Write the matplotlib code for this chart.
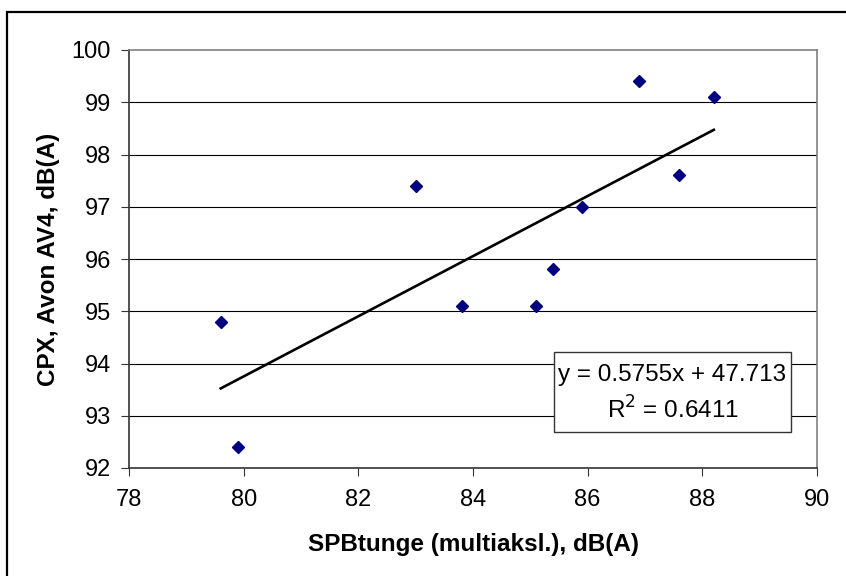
import numpy as np
import matplotlib
matplotlib.use('Agg')
import matplotlib.pyplot as plt
from matplotlib.patches import Rectangle

plt.rcParams['font.family'] = ['Liberation Sans', 'DejaVu Sans']

# measured points
spb = [79.6, 79.9, 83.0, 83.8, 85.1, 85.4, 85.9, 86.9, 87.6, 88.2]
cpx = [94.8, 92.4, 97.4, 95.1, 95.1, 95.8, 97.0, 99.4, 97.6, 99.1]

# linear trend shown in chart
slope = 0.5755
intercept = 47.713
r2 = 0.6411

xticks = [78, 80, 82, 84, 86, 88, 90]
yticks = [92, 93, 94, 95, 96, 97, 98, 99, 100]

fig = plt.figure(figsize=(8.46, 5.76), dpi=100)
ax = fig.add_axes([129/846, 1 - 468/576, 688/846, 418/576])

# outer chart border (right/bottom edges fall outside the picture)
top = 1 - 12/576
fig.add_artist(Rectangle((7/846, -0.2), 1.5, top + 0.2, transform=fig.transFigure,
                         fill=False, ec='black', lw=1.6))

for yv in yticks[1:-1]:
    ax.axhline(yv, color='black', lw=0.8, zorder=1)

xs = np.array([min(spb), max(spb)])
ax.plot(xs, slope * xs + intercept, color='black', lw=1.9, zorder=3)
ax.plot(spb, cpx, linestyle='none', marker='D', ms=6, color='#000080', zorder=4)

ax.set_xlim(xticks[0], xticks[-1])
ax.set_ylim(yticks[0], yticks[-1])
ax.set_xticks(xticks)
ax.set_yticks(yticks)
ax.tick_params(direction='out', length=6, width=0.8, color='#333333', labelsize=17)
ax.tick_params(axis='y', pad=7)
ax.tick_params(axis='x', pad=9)

for s in ['left', 'bottom']:
    ax.spines[s].set_color('#333333')
    ax.spines[s].set_linewidth(1.2)
for s in ['top', 'right']:
    ax.spines[s].set_color('#808080')
    ax.spines[s].set_linewidth(1.2)

ax.set_xlabel('SPBtunge (multiaksl.), dB(A)', fontsize=17.5, fontweight='bold')
ax.set_ylabel('CPX, Avon AV4, dB(A)', fontsize=17.5, fontweight='bold')
ax.xaxis.set_label_coords(0.5, (468 - 545) / 418)
ax.xaxis.label.set_va('center')
ax.yaxis.set_label_coords((48 - 129) / 688, 0.5)
ax.yaxis.label.set_va('center')

# equation box
bx0, bx1 = (554 - 129) / 688, (791 - 129) / 688
by0, by1 = (468 - 432) / 418, (468 - 352) / 418
ax.add_patch(Rectangle((bx0, by0), bx1 - bx0, by1 - by0, transform=ax.transAxes,
                       facecolor='white', edgecolor='#333333', lw=1.0, zorder=5))
ax.text((bx0 + bx1) / 2, (468 - 375) / 418, 'y = %.4fx + %.3f' % (slope, intercept),
        transform=ax.transAxes, ha='center', va='center', fontsize=17.5, zorder=6)
ax.text((bx0 + bx1) / 2, (468 - 410) / 418, 'R$^2$ = %.4f' % r2,
        transform=ax.transAxes, ha='center', va='center', fontsize=17.5, zorder=6)

fig.savefig('out.png', dpi=100)
